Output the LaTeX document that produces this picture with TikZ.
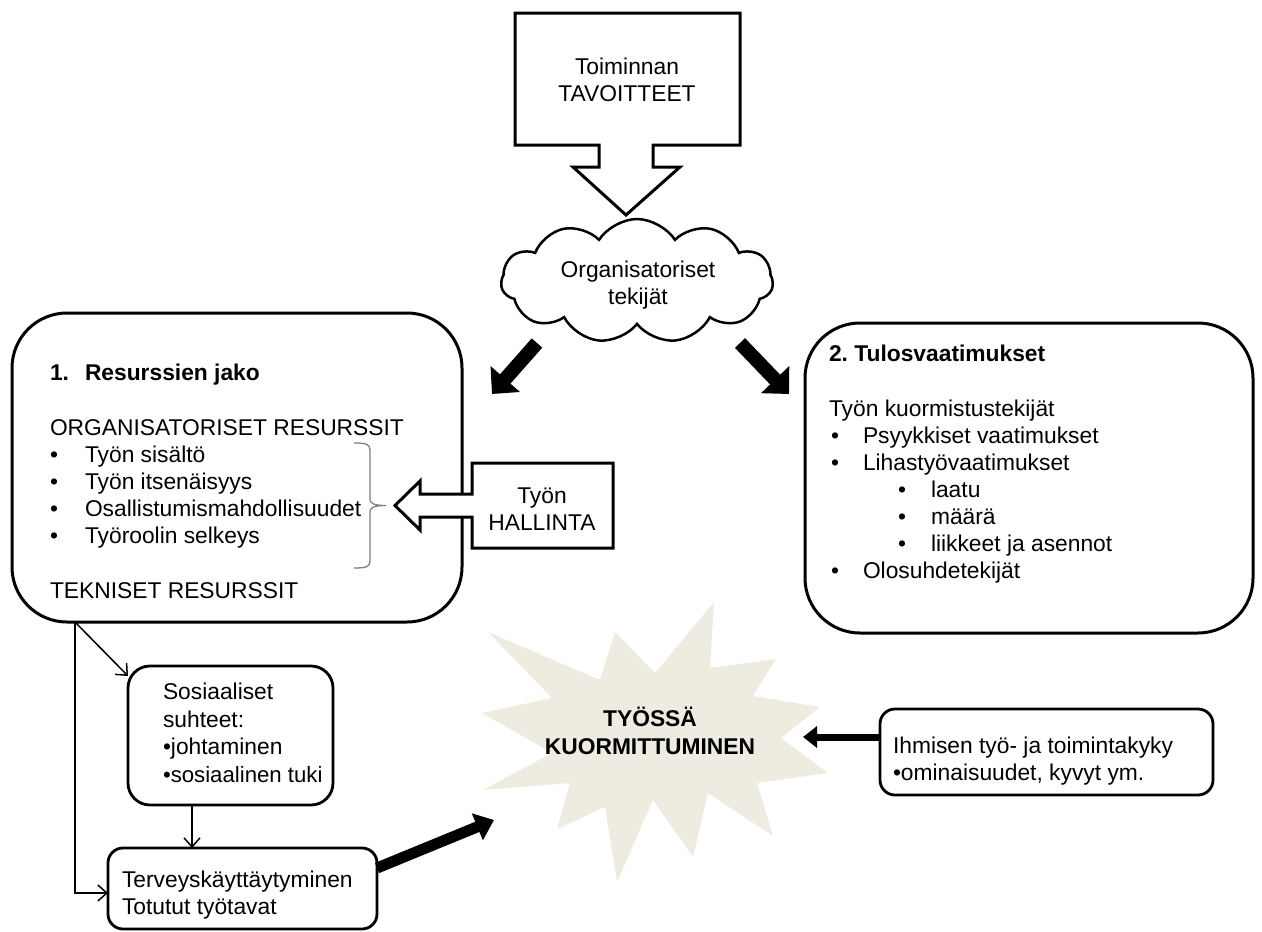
\documentclass[tikz,border=0pt]{standalone}
\usepackage{fontspec}
\setmainfont{Liberation Sans}
\usetikzlibrary{shapes.symbols,arrows.meta,calc}
\definecolor{starfill}{HTML}{EEECE1}
\newcommand\fsz{\fontsize{22.8pt}{27pt}\selectfont\frenchspacing}
\begin{document}
\begin{tikzpicture}[x=1pt,y=-1pt,
  every node/.style={font=\fsz, inner sep=0pt, outer sep=0pt},
  txt/.style={anchor=base west},
  ctxt/.style={anchor=base},
  bigbox/.style={draw, line width=3pt, rounded corners=55pt, anchor=north west},
  smallbox/.style={draw, line width=2.8pt, rounded corners=#1, anchor=north west},
  callout/.style={draw, line width=3pt, fill=white, line join=miter},
  heavy/.style={line width=14pt, -{Triangle[length=20pt,width=38pt]}},
  medium/.style={line width=11pt, -{Triangle[length=18pt,width=28pt]}},
  light/.style={line width=7pt, -{Triangle[length=14pt,width=21pt]}},
  thinarrow/.style={line width=1.5pt, -{Straight Barb[length=9pt,width=16pt]}}
]
\useasboundingbox (0,0) rectangle (1262,932);

% star
\fill[starfill, rounded corners=1.5pt] (482,713) -- (552,698) -- (488,632) -- (600,680) -- (615,632) -- (655,673) -- (714,602) -- (710,668) -- (776,659) -- (753,696) -- (820,707) -- (781,738) -- (828,773) -- (757,783) -- (773,836) -- (708,793) -- (693,857) -- (653,800) -- (617,882) -- (605,807) -- (557,829) -- (570,783) -- (483,790) -- (552,753) -- cycle;
\node[ctxt, font=\fsz\bfseries] (st1) at (650,726) {TYÖSSÄ};
\node[ctxt, font=\fsz\bfseries] (st2) at (650,754) {KUORMITTUMINEN};

% top callout
\draw[callout] (515,13) -- (740,13) -- (740,145) -- (653,145) -- (653,167) -- (680,167) -- (626,215) -- (573,167) -- (599,167) -- (599,145) -- (515,145) -- cycle;
\node[ctxt] (tv1) at (627,74) {Toiminnan};
\node[ctxt] (tv2) at (627,101) {TAVOITTEET};

% cloud
\node[cloud, draw, line width=2.5pt, fill=white, cloud puffs=11, cloud puff arc=115, cloud ignores aspect, minimum width=272pt, minimum height=124pt] (cloud) at (637,281) {};
\node[ctxt] (cl1) at (638,277) {Organisatoriset};
\node[ctxt] (cl2) at (638,304) {tekijät};

% heavy arrows from cloud
\coordinate (c1s) at (537,343);
\coordinate (c1e) at (492,394);
\coordinate (c2s) at (740,343);
\coordinate (c2e) at (789,394);
\draw[heavy] (c1s) -- (c1e);
\draw[heavy] (c2s) -- (c2e);

% left box
\node[bigbox, minimum width=450pt, minimum height=309pt] (res) at (12,313) {};
\node[txt, font=\fsz\bfseries] (r0a) at (50,380) {1.};
\node[txt, font=\fsz\bfseries] (r0b) at (85,380) {Resurssien jako};
\node[txt] (r1) at (50,435) {ORGANISATORISET RESURSSIT};
\foreach \y/\t [count=\i] in {462/Työn sisältö, 489/Työn itsenäisyys, 516/Osallistumismahdollisuudet, 543/Työroolin selkeys}{
  \node[txt] (rb\i) at (50,\y) {•};
  \node[txt] (rt\i) at (85,\y) {\t};
}
\node[txt] (r2) at (50,598) {TEKNISET RESURSSIT};
\draw[gray, line width=1.3pt] (354,443) .. controls (366,443) and (370,444) .. (370,450) -- (370,499) .. controls (370,503) and (373,505.5) .. (386,505.5) .. controls (373,505.5) and (370,508) .. (370,512) -- (370,561) .. controls (370,567) and (366,568) .. (354,568);

% HALLINTA callout
\draw[callout] (472,463) -- (613,463) -- (613,548) -- (472,548) -- (472,517) -- (420,517) -- (420,530) -- (395,505.5) -- (420,481) -- (420,494) -- (472,494) -- cycle;
\node[ctxt] (h1) at (542,503) {Työn};
\node[ctxt] (h2) at (542,530) {HALLINTA};

% right box
\node[bigbox, minimum width=448pt, minimum height=310pt] (tul) at (805,323) {};
\node[txt, font=\fsz\bfseries] (t0) at (829,361) {2. Tulosvaatimukset};
\node[txt] (t1) at (829,416) {Työn kuormistustekijät};
\node[txt] (tb1) at (831,443) {•};
\node[txt] (tt1) at (863,443) {Psyykkiset vaatimukset};
\node[txt] (tb2) at (831,470) {•};
\node[txt] (tt2) at (863,470) {Lihastyövaatimukset};
\node[txt] (sb1) at (898,497) {•};
\node[txt] (st1x) at (931,497) {laatu};
\node[txt] (sb2) at (898,524) {•};
\node[txt] (st2x) at (931,524) {määrä};
\node[txt] (sb3) at (898,551) {•};
\node[txt] (st3x) at (931,551) {liikkeet ja asennot};
\node[txt] (tb3) at (831,578) {•};
\node[txt] (tt3) at (863,578) {Olosuhdetekijät};

% social box
\node[smallbox=22pt, minimum width=205pt, minimum height=139pt] (sos) at (128,666) {};
\node[txt] (s1) at (163,699) {Sosiaaliset};
\node[txt] (s2) at (163,727) {suhteet:};
\node[txt] (s3) at (163,754) {•johtaminen};
\node[txt, font=\fontsize{22.2pt}{27pt}\selectfont] (s4) at (163,782) {•sosiaalinen tuki};

% health box
\node[smallbox=15pt, minimum width=269pt, minimum height=81pt] (terv) at (108,848) {};
\node[txt] (v1) at (122,887) {Terveyskäyttäytyminen};
\node[txt] (v2) at (122,914) {Totutut työtavat};

% human box
\node[smallbox=15pt, minimum width=333pt, minimum height=86pt] (ihm) at (880,709) {};
\node[txt] (i1) at (893,753) {Ihmisen työ- ja toimintakyky};
\node[txt] (i2) at (893,780) {•ominaisuudet, kyvyt ym.};

% thin arrows
\coordinate (split) at (75,622);
\coordinate (sx) at (192,0);
\draw[thinarrow] (split) |- ($(terv.north west)+(0,45)$);
\draw[thinarrow] (split) -- ($(sos.north west)+(0,10)$);
\draw[thinarrow] (sos.south -| sx) -- (terv.north -| sx);

% bold arrows to star
\coordinate (te) at (494,820);
\draw[medium] ($(terv.north east)+(0,20)$) -- (te);
\coordinate (ie) at (803,737);
\draw[light] ($(ihm.north west)+(0,28)$) -- (ie);
\end{tikzpicture}
\end{document}
